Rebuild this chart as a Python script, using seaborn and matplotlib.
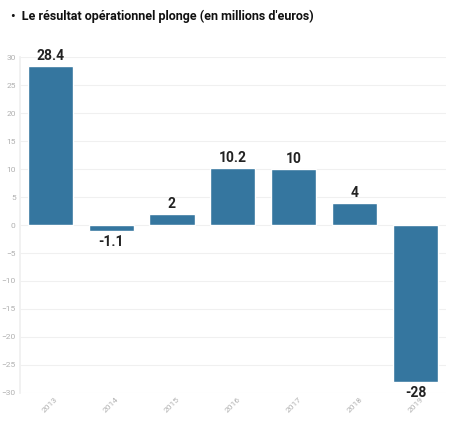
import matplotlib
matplotlib.use("Agg")
import matplotlib.pyplot as plt
import seaborn as sns
import pandas as pd

# Données
annees = ["2013", "2014", "2015", "2016", "2017", "2018", "2019"]
resultat = [28.4, -1.1, 2, 10.2, 10, 4, -28]
etiquettes = ["28.4", "-1.1", "2", "10.2", "10", "4", "-28"]

df = pd.DataFrame({"annee": annees, "resultat": resultat})

sns.set_theme(style="white")
plt.rcParams['font.family'] = ['Roboto', 'DejaVu Sans']

fig = plt.figure(figsize=(4.5, 4.29), dpi=100)
ax = fig.add_axes([0.044, 0.084, 0.947, 0.783])

sns.barplot(data=df, x="annee", y="resultat", color="#35769f",
            saturation=1, width=0.74, ax=ax)

ax.set_ylim(-30, 30)
ax.set_yticks(range(-30, 31, 5))
ax.set_xlabel("")
ax.set_ylabel("")
ax.grid(axis="y", color="#f0f0f0", lw=0.8)
ax.set_axisbelow(True)
for s in ["top", "right", "bottom"]:
    ax.spines[s].set_visible(False)
ax.spines["left"].set_color("#f0f0f0")
ax.tick_params(axis="y", labelsize=6, colors="#b0b0b0", length=0, pad=3)
ax.tick_params(axis="x", labelsize=6, colors="#b0b0b0", length=0, pad=2)
for lab in ax.get_xticklabels():
    lab.set_rotation(45)

# Étiquettes de valeurs
for i, (v, t) in enumerate(zip(resultat, etiquettes)):
    if v >= 0:
        ax.annotate(t, (i, v), xytext=(0, 2), textcoords="offset points",
                    ha="center", va="bottom", fontsize=10,
                    fontweight="bold", color="#222222", annotation_clip=False)
    else:
        ax.annotate(t, (i, v), xytext=(0, -3), textcoords="offset points",
                    ha="center", va="top", fontsize=10,
                    fontweight="bold", color="#222222", annotation_clip=False)

fig.text(0.025, 0.962, "•  Le résultat opérationnel plonge (en millions d'euros)",
         fontsize=9, fontweight="bold", color="#111111", va="center")

fig.savefig("out.png", dpi=100, facecolor="white")
